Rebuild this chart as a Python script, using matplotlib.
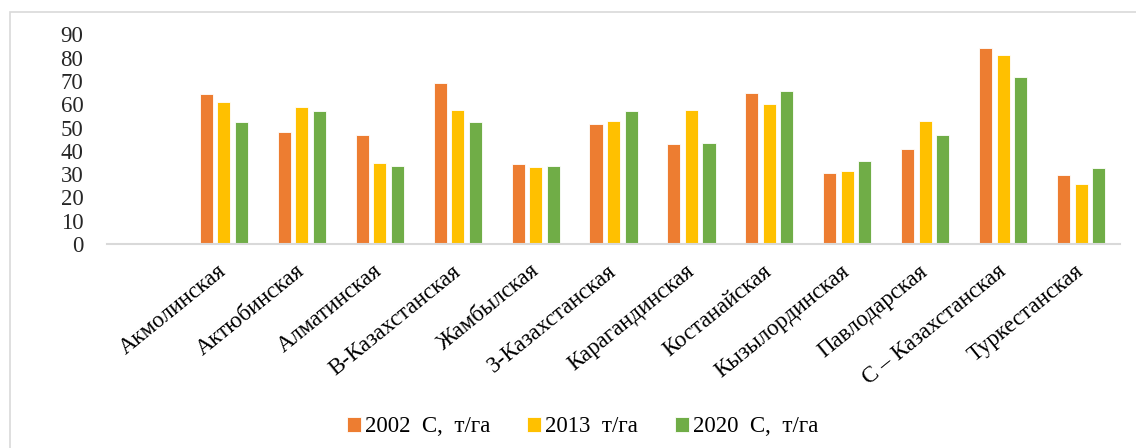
import numpy as np
import matplotlib
matplotlib.use('Agg')
import matplotlib.pyplot as plt
from matplotlib.patches import Rectangle

# regions (first slot on the axis is left empty, as in the original)
regions = ['Акмолинская', 'Актюбинская', 'Алматинская', 'В-Казахстанская',
           'Жамбылская', 'З-Казахстанская', 'Карагандинская', 'Костанайская',
           'Кызылординская', 'Павлодарская', 'С – Казахстанская', 'Туркестанская']

c2002 = [64.3, 48.3, 47.0, 69.0, 34.3, 51.6, 42.9, 64.8, 30.3, 40.8, 84.3, 29.6]
c2013 = [60.9, 59.0, 34.8, 57.6, 33.0, 52.8, 57.6, 60.3, 31.5, 53.0, 81.0, 25.7]
c2020 = [52.3, 57.0, 33.6, 52.3, 33.6, 57.0, 43.5, 65.6, 35.6, 47.0, 71.6, 32.8]

series_names = ['2002  С,  т/га', '2013  т/га', '2020  С,  т/га']
colors = ['#ED7D31', '#FFC000', '#70AD47']

plt.rcParams['font.family'] = ['Liberation Serif', 'DejaVu Serif']

fig = plt.figure(figsize=(11.36, 4.48), dpi=100)
ax = fig.add_axes([0.0942, 0.4554, 0.8918, 0.4676])

# outer chart border
fig.patches.append(Rectangle((10 / 1136, -0.05), 1.2, 1 - 12 / 448 + 0.05,
                             transform=fig.transFigure, fill=False,
                             edgecolor='#d9d9d9', linewidth=1.2))

x = np.arange(1, len(regions) + 1)
step = 0.225
width = 0.168
for i, (vals, name, col) in enumerate(zip([c2002, c2013, c2020], series_names, colors)):
    ax.bar(x + (i - 1) * step, vals, width=width, color=col, label=name,
           edgecolor='white', linewidth=0.6)

ax.set_xlim(-0.5, len(regions) + 0.5)
ax.set_ylim(0, 90)
ax.set_yticks(np.arange(0, 91, 10))
ax.set_xticks(x)
ax.set_xticklabels(regions, rotation=39, ha='right', va='center',
                   rotation_mode='anchor', fontsize=16.5)
ax.tick_params(axis='x', length=0, pad=18)
ax.tick_params(axis='y', length=0, pad=17, labelsize=16.5, labelcolor='#262626')

for s in ['top', 'right', 'left']:
    ax.spines[s].set_visible(False)
ax.spines['bottom'].set_color('#d9d9d9')
ax.spines['bottom'].set_linewidth(1.5)

fig.legend(loc='center', bbox_to_anchor=(0.513, 0.047), ncol=3, frameon=False,
           fontsize=16.5, handlelength=0.6, handleheight=0.6, handletextpad=0.2,
           columnspacing=1.6)

fig.savefig('out.png', dpi=100)
